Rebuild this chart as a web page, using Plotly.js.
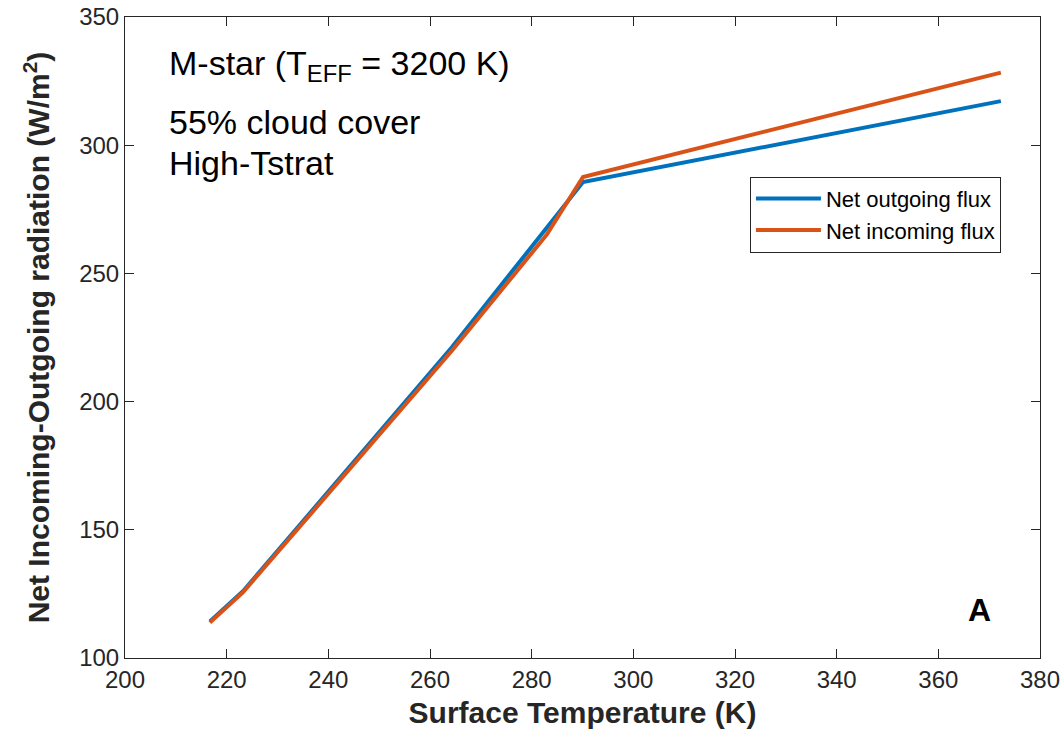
<!DOCTYPE html>
<html><head><meta charset="utf-8">
<script src="https://cdn.plot.ly/plotly-3.0.1.min.js"></script>
<style>body{margin:0;background:#fff}#c{width:1061px;height:738px}</style>
</head><body><div id="c"></div>
<script>
const tempOut = [216.7, 223.2, 264.3, 283.0, 290.1, 372.3];
const fluxOut = [114.2, 126.0, 221.2, 267.5, 285.6, 317.2];
const tempIn = [216.7, 223.2, 264.3, 283.0, 290.1, 372.3];
const fluxIn = [113.8, 125.6, 219.8, 265.2, 287.6, 328.3];
const seriesNames = ['Net outgoing flux', 'Net incoming flux'];
const xTicks = [200,220,240,260,280,300,320,340,360,380];
const yTicks = [100,150,200,250,300,350];
const infoLines = ['M-star (T<sub>EFF</sub> = 3200 K)', '55% cloud cover', 'High-Tstrat'];
const font = 'Liberation Sans, Arial, sans-serif';
const traces = [
 {x: tempOut, y: fluxOut, name: seriesNames[0], mode: 'lines', line: {color: '#0072BD', width: 4}},
 {x: tempIn, y: fluxIn, name: seriesNames[1], mode: 'lines', line: {color: '#D95319', width: 4}}
];
const axBase = {showgrid:false, zeroline:false, showline:true, linecolor:'#262626', linewidth:1, mirror:'ticks', ticks:'inside', ticklen:9, tickcolor:'#262626', tickfont:{family:font, size:24, color:'#262626'}};
const infoY = [65, 122, 163].map(p => (658 - p) / 641);
const layout = {
 width:1061, height:738, paper_bgcolor:'#fff', plot_bgcolor:'#fff',
 margin:{l:125, r:21, t:17, b:80},
 showlegend:true,
 legend:{x:0.683, y:0.751, xanchor:'left', yanchor:'top', bordercolor:'#262626', borderwidth:1, bgcolor:'#fff', font:{family:font, size:22, color:'#000'}, tracegroupgap:0, itemwidth:65},
 xaxis: Object.assign({}, axBase, {range:[200,380], tickvals:xTicks, title:{text:'<b>Surface Temperature (K)</b>', font:{family:font, size:30, color:'#262626'}, standoff:10}}),
 yaxis: Object.assign({}, axBase, {range:[100,350], tickvals:yTicks, title:{text:'<b>Net Incoming-Outgoing radiation (W/m<sup>2</sup>)</b>', font:{family:font, size:30, color:'#262626'}, standoff:20}}),
 annotations: infoLines.map((t, i) => ({xref:'paper', yref:'paper', x:0.046, y:infoY[i], xanchor:'left', yanchor:'middle', align:'left', showarrow:false, text:t, font:{family:font, size:34, color:'#000'}}))
  .concat([{xref:'paper', yref:'paper', x:0.934, y:0.075, xanchor:'center', yanchor:'middle', showarrow:false,
   text:'<b>A</b>', font:{family:font, size:32, color:'#000'}}])
};
Plotly.newPlot('c', traces, layout, {displayModeBar:false, staticPlot:true});
</script></body></html>
